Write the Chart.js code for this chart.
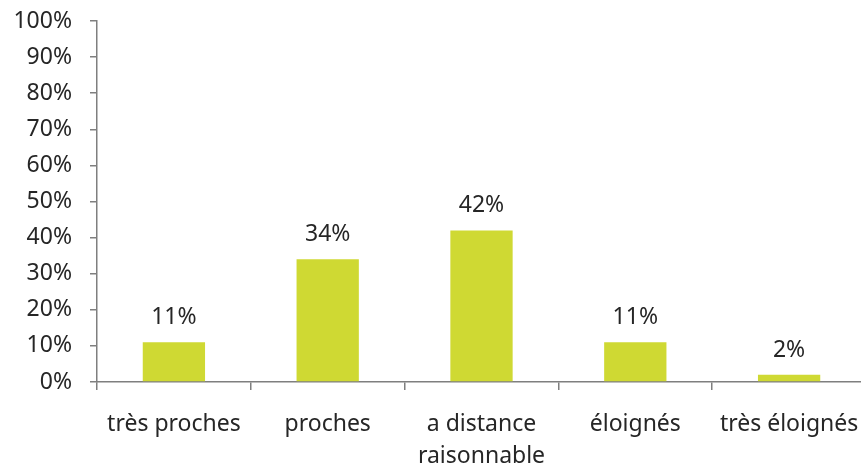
<!DOCTYPE html>
<html lang="fr">
<head>
    <meta charset="UTF-8">
    <title>Distance</title>
    <script src="https://cdn.jsdelivr.net/npm/chart.js"></script>
    <style>
        body {
            margin: 0;
            background: #fff;
            overflow: hidden;
        }

        .wrap {
            width: 861px;
            height: 466px;
            overflow: hidden;
        }

        /* canvas a bit wider than the page so the last category runs off the edge */
        .box {
            width: 866px;
            height: 466px;
        }
    </style>
</head>
<body>
    <div class="wrap">
        <div class="box"><canvas id="myChart"></canvas></div>
    </div>

    <script>
        const categories = ['très proches', 'proches', ['a distance', 'raisonnable'], 'éloignés', 'très éloignés'];
        const values = [11, 34, 42, 11, 2];
        const yTicks = [0, 10, 20, 30, 40, 50, 60, 70, 80, 90, 100];

        const textColor = '#262626';
        const axisColor = '#7f7f7f';
        const barColor = '#cfd933';
        const font = { family: '"Noto Sans", sans-serif', size: 23, lineHeight: 1.4 };

        // percentage label over each bar
        const valueLabels = {
            id: 'valueLabels',
            afterDatasetsDraw(chart) {
                const ctx = chart.ctx;
                const meta = chart.getDatasetMeta(0);
                ctx.save();
                ctx.fillStyle = textColor;
                ctx.font = font.size + 'px ' + font.family;
                ctx.textAlign = 'center';
                ctx.textBaseline = 'alphabetic';
                meta.data.forEach((bar, i) => {
                    ctx.fillText(values[i] + '%', bar.x, bar.y - 18);
                });
                ctx.restore();
            }
        };

        new Chart(document.getElementById('myChart'), {
            type: 'bar',
            data: {
                labels: categories,
                datasets: [{
                    data: values,
                    backgroundColor: barColor,
                    borderWidth: 0,
                    categoryPercentage: 1,
                    barPercentage: 0.405
                }]
            },
            options: {
                responsive: true,
                maintainAspectRatio: false,
                animation: false,
                layout: { padding: { top: 21, left: 0, right: 0, bottom: 0 } },
                plugins: {
                    legend: { display: false },
                    tooltip: { enabled: false }
                },
                scales: {
                    x: {
                        grid: {
                            offset: true,
                            drawOnChartArea: false,
                            drawTicks: true,
                            tickLength: 8,
                            color: axisColor,
                            lineWidth: 1.5
                        },
                        border: { color: axisColor, width: 1.5 },
                        ticks: {
                            color: textColor,
                            font: font,
                            padding: 18,
                            maxRotation: 0,
                            autoSkip: false
                        },
                        afterFit(scale) {
                            scale.height = 84;
                            scale.paddingLeft = 0;
                            scale.paddingRight = 0;
                        }
                    },
                    y: {
                        min: 0,
                        max: 100,
                        afterBuildTicks(scale) {
                            scale.ticks = yTicks.map(v => ({ value: v }));
                        },
                        grid: {
                            drawOnChartArea: false,
                            drawTicks: true,
                            tickLength: 7,
                            color: axisColor,
                            lineWidth: 1.5
                        },
                        border: { color: axisColor, width: 1.5 },
                        ticks: {
                            color: textColor,
                            font: font,
                            padding: 18,
                            autoSkip: false,
                            callback: v => v + '%'
                        },
                        afterFit(scale) {
                            scale.width = 97;
                            scale.paddingTop = 0;
                            scale.paddingBottom = 0;
                        }
                    }
                }
            },
            plugins: [valueLabels]
        });
    </script>
</body>
</html>
